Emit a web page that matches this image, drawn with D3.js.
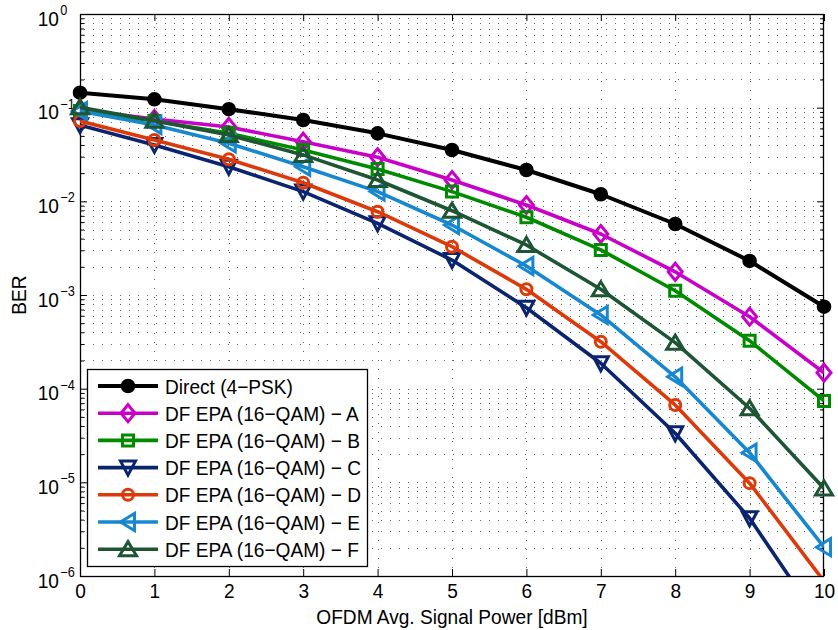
<!DOCTYPE html>
<html>
<head>
<meta charset="utf-8">
<script src="https://cdn.jsdelivr.net/npm/d3@7"></script>
<style>
  body { margin: 0; background: #fff; }
  text { font-family: "Liberation Sans", Arial, Helvetica, sans-serif; fill: #000; }
</style>
</head>
<body>
<main></main>
<script>
// datos
const potencia = [0, 1, 2, 3, 4, 5, 6, 7, 8, 9, 10];

const direct = [0.1445, 0.1228, 0.0963, 0.0739, 0.0532, 0.0353, 0.0216, 0.0119, 0.00573, 0.00231, 0.00075];
const serieA = [0.095, 0.0757, 0.0622, 0.0433, 0.0295, 0.0169, 0.00914, 0.00448, 0.00177, 0.000586, 0.000148];
const serieB = [0.092, 0.072, 0.0532, 0.0353, 0.0221, 0.0127, 0.00676, 0.00303, 0.00111, 0.000325, 0.000074];
const serieC = [0.065, 0.040, 0.0234, 0.0127, 0.00583, 0.00236, 0.000732, 0.000187, 0.0000334, 0.00000413, 0.00000028];
const serieD = [0.072, 0.0452, 0.0281, 0.0158, 0.00775, 0.00328, 0.00115, 0.000317, 0.000067, 0.0000098, 0.00000088];
const serieE = [0.092, 0.0653, 0.0417, 0.0234, 0.0127, 0.00559, 0.00204, 0.000612, 0.000134, 0.0000207, 0.00000203];
const serieF = [0.101, 0.0726, 0.0511, 0.0313, 0.0169, 0.00794, 0.00342, 0.00115, 0.00031, 0.0000618, 0.0000086];

const nombres = ['Direct (4\u2212PSK)', 'DF EPA (16\u2212QAM) \u2212 A', 'DF EPA (16\u2212QAM) \u2212 B',
  'DF EPA (16\u2212QAM) \u2212 C', 'DF EPA (16\u2212QAM) \u2212 D', 'DF EPA (16\u2212QAM) \u2212 E',
  'DF EPA (16\u2212QAM) \u2212 F'];
const exponentes = [0, -1, -2, -3, -4, -5, -6];

const colores = ['#000000', '#c800c8', '#008a00', '#0a2470', '#dc3a0a', '#1787d0', '#1d5535'];
const marcas = ['dot', 'diamond', 'square', 'triDown', 'circle', 'triLeft', 'triUp'];

const series = [direct, serieA, serieB, serieC, serieD, serieE, serieF];

// tamaño
const w = 838, h = 630;
const m = { left: 80, right: 14, top: 14, bottom: 54 };
const x0 = m.left, x1 = w - m.right, y0 = m.top, y1 = h - m.bottom;
const sx = 0.91; // texto un poco estrecho

var svg = d3.select('main')
  .append('svg')
  .attr('width', w)
  .attr('height', h);

const x = d3.scaleLinear().domain([0, 10]).range([x0, x1]);
const y = d3.scaleLog().domain([1e-6, 1]).range([y1, y0]);

// ticks mayores y menores del eje log
const mayores = exponentes.map(e => Math.pow(10, e));
const menores = [];
for (let e = -6; e < 0; e++) {
  for (let k = 2; k <= 9; k++) menores.push(k * Math.pow(10, e));
}

// rejilla punteada
const rejilla = svg.append('g')
  .attr('stroke', '#000')
  .attr('stroke-opacity', 0.6)
  .attr('stroke-width', 1)
  .attr('stroke-dasharray', '1,8');

rejilla.selectAll('.gy')
  .data(mayores.concat(menores).filter(v => v > 1e-6 && v < 1))
  .enter().append('line')
  .attr('x1', x0 + 4).attr('x2', x1)
  .attr('y1', d => Math.round(y(d)) + 0.5)
  .attr('y2', d => Math.round(y(d)) + 0.5);

rejilla.selectAll('.gx')
  .data(potencia.filter(v => v > 0 && v < 10))
  .enter().append('line')
  .attr('y1', y0 + 4).attr('y2', y1)
  .attr('x1', d => Math.round(x(d)) + 0.5)
  .attr('x2', d => Math.round(x(d)) + 0.5);

// ejes
const ejeX = svg.append('g')
  .attr('transform', `translate(0,${y1})`)
  .call(d3.axisBottom(x).tickValues(potencia).tickSizeInner(-7).tickSizeOuter(0).tickPadding(7));
ejeX.selectAll('text')
  .attr('font-size', 21)
  .attr('transform', `scale(${sx},1)`);

svg.append('g')
  .attr('transform', `translate(0,${y0})`)
  .call(d3.axisTop(x).tickValues(potencia).tickSizeInner(-7).tickSizeOuter(0).tickFormat(''));

svg.append('g')
  .attr('transform', `translate(${x0},0)`)
  .call(d3.axisLeft(y).tickValues(mayores).tickSizeInner(-7).tickSizeOuter(0).tickFormat(''));
svg.append('g')
  .attr('transform', `translate(${x0},0)`)
  .call(d3.axisLeft(y).tickValues(menores).tickSizeInner(-4).tickSizeOuter(0).tickFormat(''));
svg.append('g')
  .attr('transform', `translate(${x1},0)`)
  .call(d3.axisRight(y).tickValues(mayores).tickSizeInner(-7).tickSizeOuter(0).tickFormat(''));
svg.append('g')
  .attr('transform', `translate(${x1},0)`)
  .call(d3.axisRight(y).tickValues(menores).tickSizeInner(-4).tickSizeOuter(0).tickFormat(''));

svg.selectAll('.domain').remove();
svg.selectAll('.tick line').attr('stroke', '#000');

// caja
svg.append('rect')
  .attr('x', x0 + 0.5).attr('y', y0 + 0.5)
  .attr('width', x1 - x0 - 1).attr('height', y1 - y0)
  .attr('fill', 'none').attr('stroke', '#000').attr('stroke-width', 1.3);

// etiquetas del eje y: 10^n
const etiqY = svg.append('g').selectAll('g')
  .data(exponentes)
  .enter().append('g')
  .attr('transform', d => `translate(59,${y(Math.pow(10, d))})`);

etiqY.append('text')
  .attr('y', 11.5)
  .attr('text-anchor', 'end')
  .attr('font-size', 21)
  .attr('transform', `scale(${sx},1)`)
  .text('10');

etiqY.append('text')
  .attr('x', 1.5)
  .attr('y', 1)
  .attr('font-size', 14)
  .attr('transform', `scale(${sx},1)`)
  .text(d => d === 0 ? '0' : '\u2212' + (-d));

// titulos de ejes
svg.append('g')
  .attr('transform', `translate(${(x0 + x1) / 2},624)`)
  .append('text')
  .attr('text-anchor', 'middle')
  .attr('font-size', 21)
  .attr('transform', `scale(${sx},1)`)
  .text('OFDM Avg. Signal Power [dBm]');

svg.append('g')
  .attr('transform', `translate(26,${(y0 + y1) / 2}) rotate(-90)`)
  .append('text')
  .attr('text-anchor', 'middle')
  .attr('font-size', 21)
  .attr('transform', `scale(${sx},1)`)
  .text('BER');

// formas de marcador
function forma(tipo) {
  switch (tipo) {
    case 'dot': return d3.symbol(d3.symbolCircle, Math.PI * 5.8 * 5.8)();
    case 'circle': return d3.symbol(d3.symbolCircle, Math.PI * 5.5 * 5.5)();
    case 'diamond': return 'M0,-8.5L7,0L0,8.5L-7,0Z';
    case 'square': return 'M-5.5,-5.5H5.5V5.5H-5.5Z';
    case 'triDown': return 'M-7.5,-6.5L7.5,-6.5L0,7.5Z';
    case 'triUp': return 'M-8.5,6.5L8.5,6.5L0,-7.5Z';
    case 'triLeft': return 'M6.5,-8.5L6.5,8.5L-7.5,0Z';
  }
}

// recorte para las lineas
svg.append('clipPath').attr('id', 'recorte')
  .append('rect')
  .attr('x', x0).attr('y', y0)
  .attr('width', x1 - x0).attr('height', y1 - y0);

const linea = d3.line()
  .x((d, i) => x(potencia[i]))
  .y(d => y(d));

series.forEach((s, k) => {
  const g = svg.append('g');
  g.append('path')
    .datum(s)
    .attr('clip-path', 'url(#recorte)')
    .attr('d', linea)
    .attr('fill', 'none')
    .attr('stroke', colores[k])
    .attr('stroke-width', k === 0 ? 4 : 3.6)
    .attr('stroke-linejoin', 'round');

  g.selectAll('path.marca')
    .data(s.map((v, i) => ({ v: v, p: potencia[i] })).filter(d => d.v >= 1e-6))
    .enter().append('path')
    .attr('class', 'marca')
    .attr('transform', d => `translate(${x(d.p)},${y(d.v)})`)
    .attr('d', forma(marcas[k]))
    .attr('fill', marcas[k] === 'dot' ? colores[k] : 'none')
    .attr('stroke', colores[k])
    .attr('stroke-width', 3);
});

// leyenda
const ley = svg.append('g');
ley.append('rect')
  .attr('x', 87.5).attr('y', 369.5)
  .attr('width', 280).attr('height', 197)
  .attr('fill', '#fff')
  .attr('stroke', '#000')
  .attr('stroke-width', 1.3);

const filas = ley.selectAll('g.fila')
  .data(nombres)
  .enter().append('g')
  .attr('class', 'fila')
  .attr('transform', (d, i) => `translate(0,${386 + i * 27.2})`);

filas.append('line')
  .attr('x1', 98).attr('x2', 158)
  .attr('stroke', (d, i) => colores[i])
  .attr('stroke-width', (d, i) => i === 0 ? 4 : 3.6);

filas.append('path')
  .attr('transform', 'translate(128,0)')
  .attr('d', (d, i) => forma(marcas[i]))
  .attr('fill', (d, i) => marcas[i] === 'dot' ? colores[i] : 'none')
  .attr('stroke', (d, i) => colores[i])
  .attr('stroke-width', 3);

filas.append('g')
  .attr('transform', 'translate(165,7.5)')
  .append('text')
  .attr('font-size', 21)
  .attr('transform', `scale(${sx},1)`)
  .text(d => d);
</script>
</body>
</html>
